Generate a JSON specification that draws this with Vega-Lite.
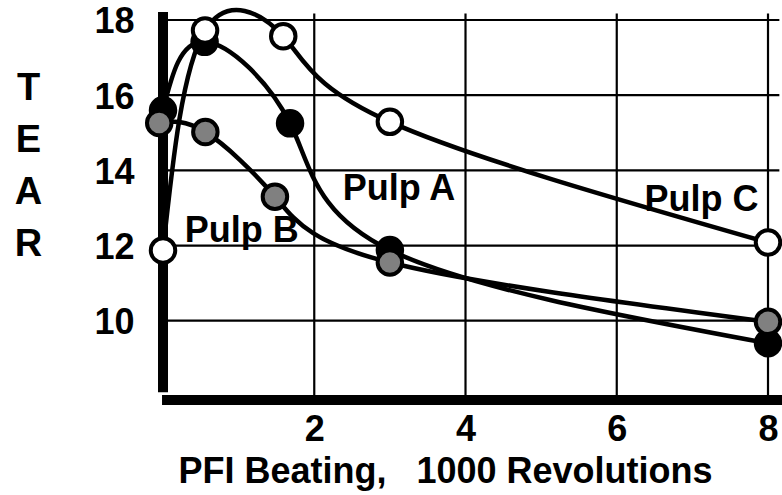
{
  "$schema": "https://vega.github.io/schema/vega-lite/v6.json",
  "width": 632,
  "height": 410,
  "autosize": "none",
  "padding": {"left": 150, "top": 0, "right": 0, "bottom": 85},
  "background": "white",
  "config": {
    "view": {"stroke": null},
    "font": "Liberation Sans",
    "text": {"font": "Liberation Sans"}
  },
  "datasets": {
    "pts": [
      {"series": "A", "x": 0, "y": 15.6},
      {"series": "A", "x": 0.55, "y": 17.42},
      {"series": "A", "x": 1.68, "y": 15.25},
      {"series": "A", "x": 3.0, "y": 11.88},
      {"series": "A", "x": 8.0, "y": 9.4},
      {"series": "B", "x": -0.05, "y": 15.26},
      {"series": "B", "x": 0.56, "y": 15.02},
      {"series": "B", "x": 1.48, "y": 13.3},
      {"series": "B", "x": 3.0, "y": 11.55},
      {"series": "B", "x": 8.0, "y": 9.97},
      {"series": "C", "x": 0, "y": 11.87},
      {"series": "C", "x": 0.556, "y": 17.72},
      {"series": "C", "x": 1.59, "y": 17.57},
      {"series": "C", "x": 3.0, "y": 15.29},
      {"series": "C", "x": 8.0, "y": 12.08}
    ],
    "labels": [
      {"label": "Pulp A", "x": 3.12, "y": 13.21},
      {"label": "Pulp B", "x": 1.04, "y": 12.09},
      {"label": "Pulp C", "x": 7.12, "y": 12.92}
    ],
    "hgrid": [{"v": 10}, {"v": 12}, {"v": 14}, {"v": 16}, {"v": 18}],
    "vgrid": [{"v": 2}, {"v": 4}, {"v": 6}, {"v": 8}]
  },
  "layer": [
    {
      "data": {"name": "hgrid"},
      "mark": {"type": "rule", "stroke": "black", "strokeWidth": 2.2},
      "encoding": {
        "y": {"field": "v", "type": "quantitative", "scale": {"domain": [7.625, 18.532], "nice": false, "zero": false},
          "axis": {
            "values": [10, 12, 14, 16, 18], "format": "d",
            "domain": false, "ticks": false, "tickSize": 0, "grid": false,
            "labelFont": "Liberation Sans", "labelFontWeight": "bold", "labelFontSize": 36, "labelColor": "black",
            "labelPadding": 16, "labelAlign": "right", "labelBaseline": "middle", "labelOffset": 2,
            "title": ["T", "E", "A", "R"],
            "titleFont": "Liberation Sans", "titleFontWeight": "bold", "titleFontSize": 38, "titleColor": "black",
            "titleAngle": 0, "titleX": -122, "titleY": 99, "titleAlign": "center", "titleBaseline": "alphabetic",
            "titleLineHeight": 52
          }
        },
        "x": {"datum": 0, "type": "quantitative"},
        "x2": {"datum": 8.15}
      }
    },
    {
      "data": {"name": "vgrid"},
      "mark": {"type": "rule", "stroke": "black", "strokeWidth": 2.2},
      "encoding": {
        "x": {"field": "v", "type": "quantitative", "scale": {"domain": [-0.172, 8.185], "nice": false, "zero": false},
          "axis": {
            "values": [2, 4, 6, 8], "format": "d",
            "domain": false, "ticks": false, "tickSize": 0, "grid": false,
            "labelFont": "Liberation Sans", "labelFontWeight": "bold", "labelFontSize": 36, "labelColor": "black",
            "labelPadding": 30, "labelBaseline": "alphabetic", "labelAlign": "center",
            "title": "PFI Beating,\u00a0\u00a0\u00a01000 Revolutions",
            "titleFont": "Liberation Sans", "titleFontWeight": "bold", "titleFontSize": 36, "titleColor": "black",
            "titleX": 295, "titleY": 72, "titleAlign": "center", "titleBaseline": "alphabetic", "titleAnchor": null
          }
        },
        "y": {"datum": 7.95, "type": "quantitative"},
        "y2": {"datum": 18.17}
      }
    },
    {
      "data": {"values": [{"a": 1}]},
      "mark": {"type": "rule", "stroke": "black", "strokeWidth": 10},
      "encoding": {
        "x": {"datum": 0, "type": "quantitative"},
        "y": {"datum": 8.1, "type": "quantitative"},
        "y2": {"datum": 18.21}
      }
    },
    {
      "data": {"values": [{"a": 1}]},
      "mark": {"type": "rule", "stroke": "black", "strokeWidth": 10},
      "encoding": {
        "y": {"datum": 7.89, "type": "quantitative"},
        "x": {"datum": -0.013, "type": "quantitative"},
        "x2": {"datum": 8.185}
      }
    },
    {
      "data": {"name": "pts"},
      "mark": {"type": "line", "interpolate": "natural", "stroke": "black", "strokeWidth": 4.5},
      "encoding": {
        "x": {"field": "x", "type": "quantitative"},
        "y": {"field": "y", "type": "quantitative"},
        "detail": {"field": "series"}
      }
    },
    {
      "data": {"name": "pts"},
      "mark": {"type": "point", "shape": "circle", "filled": true, "size": 600, "stroke": "black", "strokeWidth": 4, "opacity": 1},
      "encoding": {
        "x": {"field": "x", "type": "quantitative"},
        "y": {"field": "y", "type": "quantitative"},
        "fill": {"field": "series", "type": "nominal", "scale": {"domain": ["A", "B", "C"], "range": ["black", "#808080", "white"]}, "legend": null}
      }
    },
    {
      "data": {"name": "labels"},
      "mark": {"type": "text", "font": "Liberation Sans", "fontWeight": "bold", "fontSize": 36, "color": "black", "align": "center", "baseline": "alphabetic"},
      "encoding": {
        "x": {"field": "x", "type": "quantitative"},
        "y": {"field": "y", "type": "quantitative"},
        "text": {"field": "label"}
      }
    }
  ]
}
